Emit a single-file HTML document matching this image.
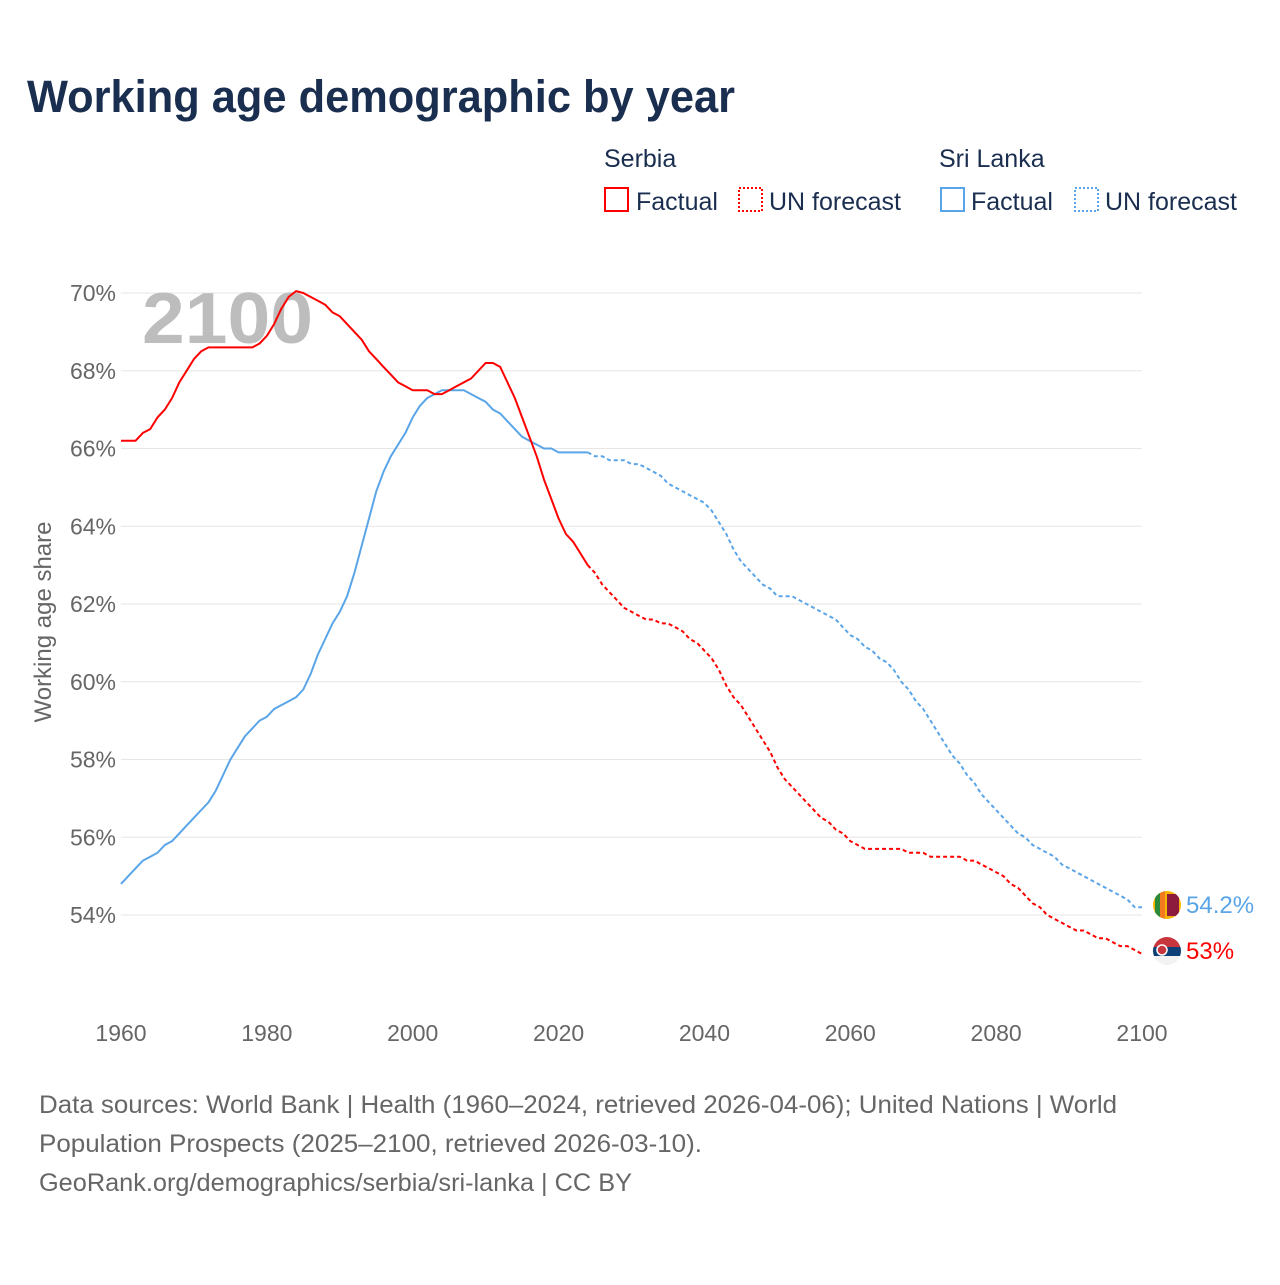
<!DOCTYPE html>
<html><head><meta charset="utf-8"><style>
body{margin:0;background:#fff;font-family:"Liberation Sans",sans-serif;}
#wrap{position:relative;width:1280px;height:1280px;}
</style></head><body><div id="wrap">
<svg id="svg" width="1280" height="1280" xmlns="http://www.w3.org/2000/svg">
<defs>
<clipPath id="clipL"><circle cx="1167" cy="905" r="14"/></clipPath>
<clipPath id="clipS"><circle cx="1167" cy="951" r="14"/></clipPath>
</defs>
<text x="27" y="112" font-size="45" font-weight="bold" fill="#1a2e4f" textLength="708" lengthAdjust="spacingAndGlyphs">Working age demographic by year</text>
<g font-size="25" fill="#1a2e4f">
<text x="604" y="167">Serbia</text>
<g><rect x="605" y="188" width="23" height="23" fill="none" stroke="#f00" stroke-width="2"/><text x="636" y="210">Factual</text></g>
<g><rect x="739" y="188" width="23" height="23" fill="none" stroke="#f00" stroke-width="2" stroke-dasharray="2,2"/><text x="769" y="210">UN forecast</text></g>
<text x="939" y="167">Sri Lanka</text>
<g><rect x="941" y="188" width="23" height="23" fill="none" stroke="#5aa5e8" stroke-width="2"/><text x="971" y="210">Factual</text></g>
<g><rect x="1075" y="188" width="23" height="23" fill="none" stroke="#5aa5e8" stroke-width="2" stroke-dasharray="2,2"/><text x="1105" y="210">UN forecast</text></g>
</g>
<g id="grid"></g>
<text x="142" y="343" font-size="72" font-weight="bold" fill="#bdbdbd" textLength="171" lengthAdjust="spacingAndGlyphs">2100</text>
<text transform="translate(51,622) rotate(-90)" text-anchor="middle" font-size="24" fill="#666">Working age share</text>
<g id="plot"></g>
<g font-size="25" fill="#666">
<text x="39" y="1113" textLength="1078" lengthAdjust="spacingAndGlyphs">Data sources: World Bank | Health (1960–2024, retrieved 2026-04-06); United Nations | World</text>
<text x="39" y="1152" textLength="663" lengthAdjust="spacingAndGlyphs">Population Prospects (2025–2100, retrieved 2026-03-10).</text>
<text x="39" y="1191" textLength="593" lengthAdjust="spacingAndGlyphs">GeoRank.org/demographics/serbia/sri-lanka | CC BY</text>
</g>
</svg></div>
<script>
const yTicks=[54,56,58,60,62,64,66,68,70];
const xTicks=[1960,1980,2000,2020,2040,2060,2080,2100];
const serbiaFactual=[66.2,66.2,66.2,66.4,66.5,66.8,67.0,67.3,67.7,68.0,68.3,68.5,68.6,68.6,68.6,68.6,68.6,68.6,68.6,68.7,68.9,69.2,69.6,69.9,70.05,70.0,69.9,69.8,69.7,69.5,69.4,69.2,69.0,68.8,68.5,68.3,68.1,67.9,67.7,67.6,67.5,67.5,67.5,67.4,67.4,67.5,67.6,67.7,67.8,68.0,68.2,68.2,68.1,67.7,67.3,66.8,66.3,65.8,65.2,64.7,64.2,63.8,63.6,63.3,63.0];
const serbiaForecast=[62.8,62.5,62.3,62.1,61.9,61.8,61.7,61.6,61.6,61.5,61.5,61.4,61.3,61.1,61.0,60.8,60.6,60.3,59.9,59.6,59.4,59.1,58.8,58.5,58.2,57.8,57.5,57.3,57.1,56.9,56.7,56.5,56.4,56.2,56.1,55.9,55.8,55.7,55.7,55.7,55.7,55.7,55.7,55.6,55.6,55.6,55.5,55.5,55.5,55.5,55.5,55.4,55.4,55.3,55.2,55.1,55.0,54.8,54.7,54.5,54.3,54.2,54.0,53.9,53.8,53.7,53.6,53.6,53.5,53.4,53.4,53.3,53.2,53.2,53.1,53.0];
const lankaFactual=[54.8,55.0,55.2,55.4,55.5,55.6,55.8,55.9,56.1,56.3,56.5,56.7,56.9,57.2,57.6,58.0,58.3,58.6,58.8,59.0,59.1,59.3,59.4,59.5,59.6,59.8,60.2,60.7,61.1,61.5,61.8,62.2,62.8,63.5,64.2,64.9,65.4,65.8,66.1,66.4,66.8,67.1,67.3,67.4,67.5,67.5,67.5,67.5,67.4,67.3,67.2,67.0,66.9,66.7,66.5,66.3,66.2,66.1,66.0,66.0,65.9,65.9,65.9,65.9,65.9];
const lankaForecast=[65.8,65.8,65.7,65.7,65.7,65.6,65.6,65.5,65.4,65.3,65.1,65.0,64.9,64.8,64.7,64.6,64.4,64.1,63.8,63.4,63.1,62.9,62.7,62.5,62.4,62.2,62.2,62.2,62.1,62.0,61.9,61.8,61.7,61.6,61.4,61.2,61.1,60.9,60.8,60.6,60.5,60.3,60.0,59.8,59.5,59.3,59.0,58.7,58.4,58.1,57.9,57.6,57.4,57.1,56.9,56.7,56.5,56.3,56.1,56.0,55.8,55.7,55.6,55.5,55.3,55.2,55.1,55.0,54.9,54.8,54.7,54.6,54.5,54.4,54.2,54.2];
const X=y=>121+(y-1960)*(1021/140);
const Y=v=>915-(v-54)*(622/16);
const NS="http://www.w3.org/2000/svg";
const grid=document.getElementById('grid'),plot=document.getElementById('plot');
function mk(t,a,p){const e=document.createElementNS(NS,t);for(const k in a)e.setAttribute(k,a[k]);p.appendChild(e);return e;}
yTicks.forEach(v=>{
 const l=mk('line',{x1:121,x2:1142,y1:Y(v),y2:Y(v),stroke:'#e6e6e6','stroke-width':1},grid);
 
 
 const t=mk('text',{x:116,y:Y(v)+8,'text-anchor':'end','font-size':23,fill:'#666'},grid);
 t.textContent=v+'%';
 
 
});
xTicks.forEach(v=>{
 const t=mk('text',{x:X(v),y:1041,'text-anchor':'middle','font-size':23,fill:'#666'},grid);
 t.textContent=v;
 
 
});
function line(arr,start,color,dash,name){
 const d=arr.map((v,i)=>(i?'L':'M')+X(start+i).toFixed(1)+','+Y(v).toFixed(1)).join('');
 const p=mk('path',{d:d,fill:'none',stroke:color,'stroke-width':2,'stroke-linejoin':'round'},plot);
 if(dash)p.setAttribute('stroke-dasharray','4,3');
 
 
}
line(lankaFactual,1960,'#5aa5e8',false,'srilanka-factual-line');
line([lankaFactual[lankaFactual.length-1]].concat(lankaForecast),2024,'#5aa5e8',true,'srilanka-forecast-line');
line(serbiaFactual,1960,'#f00',false,'serbia-factual-line');
line([serbiaFactual[serbiaFactual.length-1]].concat(serbiaForecast),2024,'#f00',true,'serbia-forecast-line');
const lv=lankaForecast[lankaForecast.length-1],sv=serbiaForecast[serbiaForecast.length-1];
const fl=mk('g',{'clip-path':'url(#clipL)'},plot);


const ly=905;
mk('rect',{x:1153,y:ly-14,width:28,height:28,fill:'#f7b500'},fl);
mk('rect',{x:1155,y:ly-14,width:5,height:28,fill:'#2a8a3a'},fl);
mk('rect',{x:1160,y:ly-14,width:5,height:28,fill:'#f47a20'},fl);
mk('rect',{x:1167,y:ly-11,width:12,height:22,fill:'#8d1b3d'},fl);
const sy=951;
const fs=mk('g',{'clip-path':'url(#clipS)'},plot);


mk('rect',{x:1153,y:sy-14,width:28,height:10,fill:'#c6363c'},fs);
mk('rect',{x:1153,y:sy-4,width:28,height:9,fill:'#0c4076'},fs);
mk('rect',{x:1153,y:sy+5,width:28,height:9,fill:'#f2f2f2'},fs);
mk('circle',{cx:1162,cy:sy-1,r:5,fill:'#c6363c',stroke:'#fff','stroke-width':1.5},fs);
const t1=mk('text',{x:1186,y:913,'font-size':24,fill:'#5aa5e8'},plot);
t1.textContent=lv+'%';


const t2=mk('text',{x:1186,y:959,'font-size':24,fill:'#f00'},plot);
t2.textContent=sv.toFixed(0)+'%';


</script></body></html>
